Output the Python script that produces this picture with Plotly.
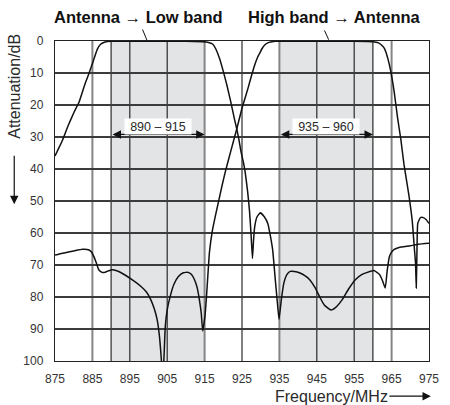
import plotly.graph_objects as go

# ---- data -------------------------------------------------------------
low_freq = [875, 876, 877, 877.5, 878.5, 880, 881.5, 883, 884.1, 885.3, 886.3, 887.2, 888.4,
            890, 900, 910, 914.5, 915.5, 916.5, 917.2, 918, 919, 920, 921, 922, 923, 923.6,
            924.2, 924.7, 925.3, 925.8, 926.5, 927, 927.4, 927.8, 928.1, 928.4, 929, 929.9,
            931, 931.9, 932.6, 933.2, 933.9, 934.4, 934.9, 935.5, 936.2, 937, 937.9, 939,
            940.5, 942, 943.1, 944.5, 945.7, 947, 948.8, 950, 951.8, 953.5, 955.3, 957,
            958.5, 960.3, 961.3, 961.8, 962.6, 963.3, 963.8, 964.4, 965.0, 965.7, 967, 970,
            972.2, 975]
low_att = [35.9, 33.5, 31, 29.5, 26.5, 22.5, 18.9, 13.5, 10.1, 6, 2.6, 1, 0.3,
           0.1, 0.1, 0.1, 0.2, 0.3, 0.6, 1, 2.5, 5.5, 9.5, 14, 19, 24.5, 27.5,
           31, 34.4, 37.5, 40.6, 47, 53, 60, 68, 62, 58, 55, 53.7,
           55, 57, 61, 65.3, 74.6, 81, 87, 81, 75.6, 73, 72, 72,
           72.5, 73.5, 74.6, 77, 79.8, 82.5, 84.1, 83.3, 80.8, 77.5, 74.6, 73,
           72.3, 71.7, 72.5, 73, 75, 77.2, 72, 67.4, 66, 65.1, 64.5, 64,
           63.5, 63.2]

high_freq = [875, 877, 880, 882.4, 884.1, 884.8, 885.4, 886.1, 886.7, 887.6, 888.3, 888.9,
             890.2, 891.5, 892.8, 895.4, 898, 899.5, 900.6, 901.5, 902.3, 902.9, 903.4,
             903.8, 904.1, 904.5, 905, 905.8, 906.8, 908, 909.3, 910.6, 911.5, 912.3, 913,
             913.6, 914.1, 914.5, 915.1, 915.5, 915.8, 916.3, 917.1, 918, 918.8, 919.7,
             920.6, 922, 923.6, 925, 926.6, 927.5, 928.4, 929.2, 929.7, 930.3, 931, 932,
             932.7, 934, 945, 955, 960, 960.5, 961.5, 962.5, 963.1, 964, 964.8, 965.7,
             966.6, 967.5, 968.3, 969.6, 970.5, 971.1, 971.4, 971.6, 971.8, 972, 972.7,
             973.5, 974.2, 975]
high_att = [66.9, 66.3, 65.6, 65.1, 65.3, 66, 67.4, 69.5, 71.5, 72.3, 72.3, 72,
            71.5, 71.8, 72.5, 74.4, 76.7, 78.5, 80.8, 83.5, 87, 92, 99,
            106, 100, 89, 84, 79.8, 76, 73.6, 72.4, 72.3, 73, 74.6, 77,
            80.8, 85, 90.6, 86, 80, 74.6, 66, 59.1, 54, 49.8, 45,
            40.6, 34.4, 27.5, 21, 14.8, 11, 7.5, 5, 3.9, 2.5, 1.3, 0.5,
            0.3, 0.1, 0.1, 0.1, 0.2, 0.3, 0.6, 1.5, 2.4, 5.5, 9.6, 16,
            24, 31, 38.5, 48, 56, 65, 69.4, 77.2, 64.3, 57, 55.2,
            55.2, 55.8, 57]

x_ticks = [875, 885, 895, 905, 915, 925, 935, 945, 955, 965, 975]
y_ticks = [0, 10, 20, 30, 40, 50, 60, 70, 80, 90, 100]
bands = [(890, 915), (935, 960)]
band_labels = ["890 – 915", "935 – 960"]
dark_vlines = [890, 895, 905, 925, 945, 955, 960]
gray_vlines = [885, 915, 935, 965]
titles = ["Antenna → Low band", "High band → Antenna"]

FONT = "Liberation Sans, Arial, sans-serif"
TXT = "#2a2a2a"

fig = go.Figure()
for fx, fy in [(low_freq, low_att), (high_freq, high_att)]:
    fig.add_trace(go.Scatter(x=fx, y=fy, mode="lines",
                             line=dict(color="#111111", width=1.5, shape="spline", smoothing=0.4),
                             hoverinfo="skip", showlegend=False))

shapes = []
for a, b in bands:
    shapes.append(dict(type="rect", xref="x", yref="y", x0=a, x1=b, y0=0, y1=100,
                       fillcolor="#e3e4e6", line=dict(width=0), layer="below"))
for v in gray_vlines:
    shapes.append(dict(type="line", xref="x", yref="y", x0=v, x1=v, y0=0, y1=100,
                       line=dict(color="#858585", width=2), layer="below"))
for v in dark_vlines:
    shapes.append(dict(type="line", xref="x", yref="y", x0=v, x1=v, y0=0, y1=100,
                       line=dict(color="#2a2a2a", width=1.2), layer="below"))
# leader lines from titles to curves
shapes.append(dict(type="line", xref="paper", yref="paper", x0=0.234, x1=0.246, y0=1.036, y1=1.002,
                   line=dict(color="#111", width=1)))
shapes.append(dict(type="line", xref="paper", yref="paper", x0=0.7206, x1=0.7318, y0=1.033, y1=1.004,
                   line=dict(color="#111", width=1)))

annotations = []
# band arrows + labels
for (a, b), lab in zip(bands, band_labels):
    annotations.append(dict(x=b, y=29.2, ax=a, ay=29.2, xref="x", yref="y", axref="x", ayref="y",
                            text="", showarrow=True, arrowside="end+start", arrowhead=2,
                            arrowsize=1.4, arrowwidth=1.2, arrowcolor="#111"))
    annotations.append(dict(x=(a + b) / 2, y=26.7, xref="x", yref="y", text=lab, showarrow=False,
                            bgcolor="white", width=66, height=15, borderpad=0,
                            xanchor="center", yanchor="middle",
                            font=dict(family=FONT, size=12.5, color=TXT)))
# titles
for xc, t in zip([0.224, 0.746], titles):
    annotations.append(dict(x=xc, y=1.075, xref="paper", yref="paper", text="<b>%s</b>" % t,
                            xanchor="center", yanchor="middle",
                            showarrow=False, font=dict(family=FONT, size=16.5, color="#111")))
# axis titles
annotations.append(dict(x=-0.107, y=0.86, xref="paper", yref="paper", text="Attenuation/dB",
                        xanchor="center", yanchor="middle",
                        textangle=-90, showarrow=False, font=dict(family=FONT, size=16, color=TXT)))
annotations.append(dict(x=-0.109, y=0.49, xref="paper", yref="paper", text="", showarrow=True,
                        ax=0, ay=-50, arrowhead=2, arrowsize=1.4, arrowwidth=1.2, arrowcolor="#111"))
annotations.append(dict(x=0.74, y=-0.11, xref="paper", yref="paper", text="Frequency/MHz",
                        xanchor="center", yanchor="middle",
                        showarrow=False, font=dict(family=FONT, size=16, color=TXT)))
annotations.append(dict(x=1.005, y=-0.11, xref="paper", yref="paper", text="", showarrow=True,
                        ax=-43, ay=0, arrowhead=2, arrowsize=1.4, arrowwidth=1.2, arrowcolor="#111"))

fig.update_layout(
    width=450, height=405,
    margin=dict(l=55, r=11, t=41, b=44),
    paper_bgcolor="white", plot_bgcolor="white",
    shapes=shapes, annotations=annotations,
    font=dict(family=FONT, color=TXT),
)
fig.update_xaxes(range=[875, 975], tickvals=x_ticks, showgrid=False, zeroline=False,
                 showline=True, mirror=True, linecolor="#222", linewidth=1.2,
                 ticks="", ticklabelstandoff=6, tickfont=dict(family=FONT, size=12, color="#333"))
fig.update_yaxes(range=[100, 0], tickvals=y_ticks, showgrid=True, gridcolor="#3c3c3c", gridwidth=1.2,
                 zeroline=False, showline=True, mirror=True, linecolor="#222", linewidth=1.2,
                 ticks="", ticklabelstandoff=8, tickfont=dict(family=FONT, size=12, color="#333"))

fig.write_html("out.html", config={"displayModeBar": False, "staticPlot": True},
               post_script="document.body.style.margin='0';document.body.style.overflow='hidden';")
